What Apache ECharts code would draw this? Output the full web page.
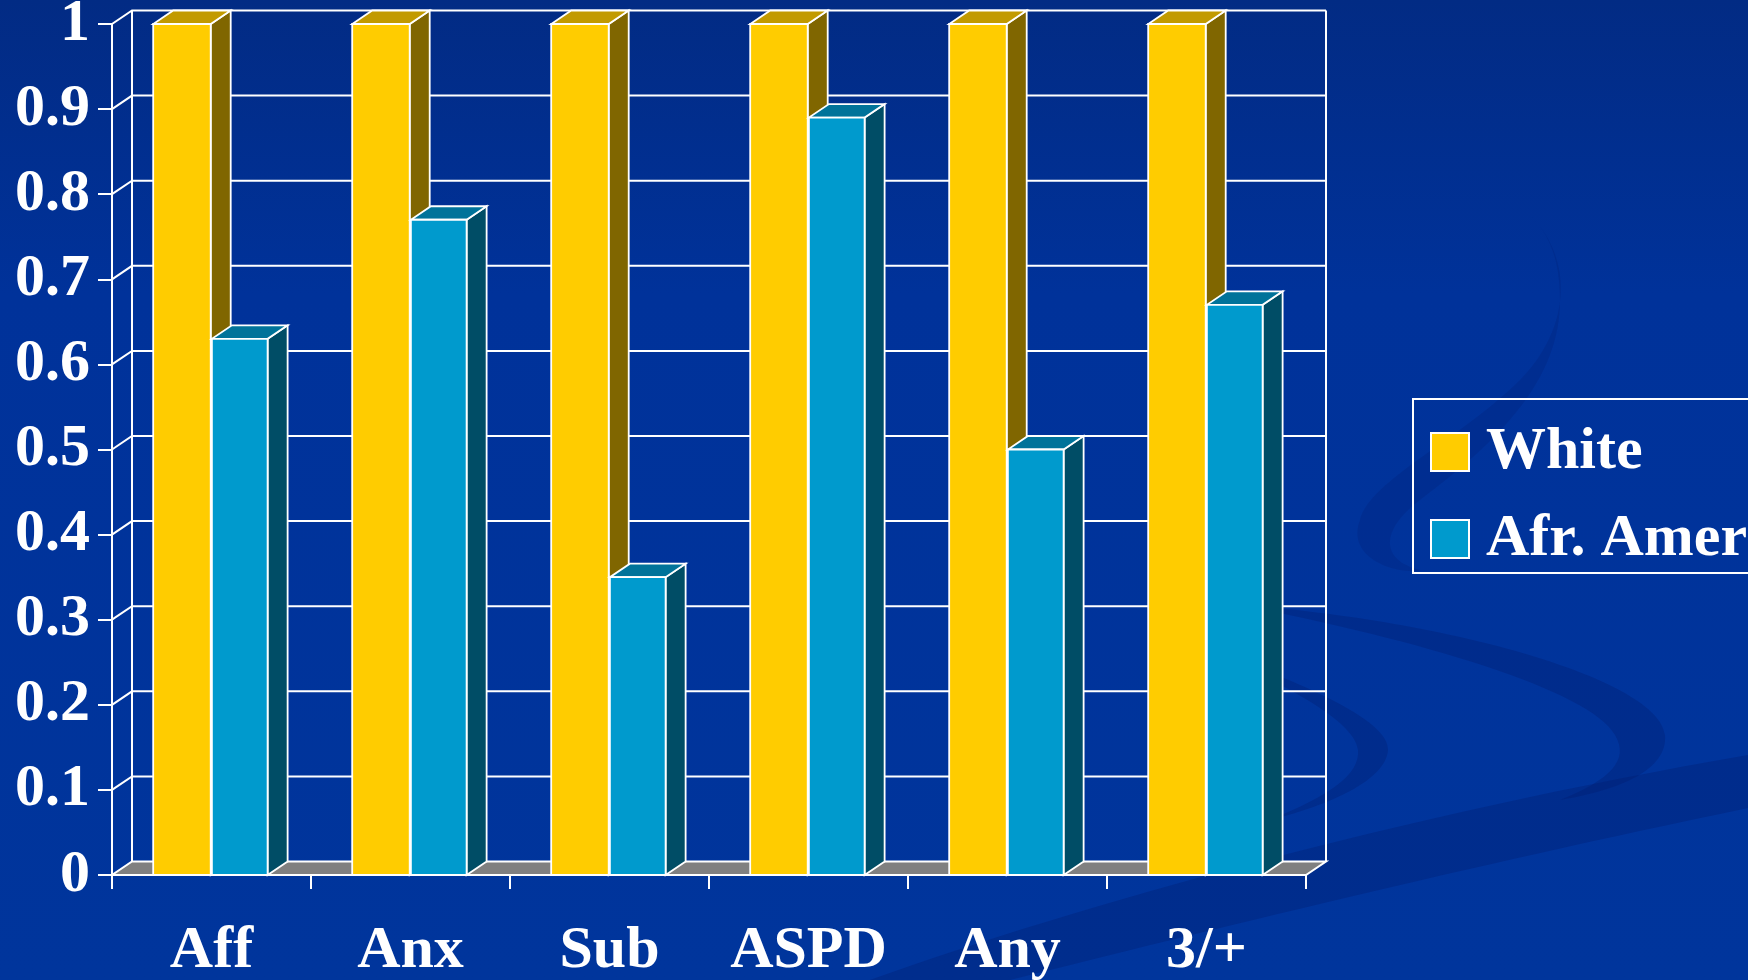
<!DOCTYPE html>
<html>
<head>
<meta charset="utf-8">
<script src="https://cdn.jsdelivr.net/npm/echarts@6/dist/echarts.min.js"></script>
<style>
  html, body { margin: 0; padding: 0; background: #003399; }
  #chart { width: 1748px; height: 980px; }
</style>
</head>
<body>
<div id="chart"></div>
<script>
// Chart data
const categories = ['Aff', 'Anx', 'Sub', 'ASPD', 'Any', '3/+'];
const whiteValues = [1, 1, 1, 1, 1, 1];
const afrAmerValues = [0.63, 0.77, 0.35, 0.89, 0.50, 0.67];
const yTickValues = [0, 0.1, 0.2, 0.3, 0.4, 0.5, 0.6, 0.7, 0.8, 0.9, 1];
const seriesNames = ['White', 'Afr. Amer'];

// Pseudo-3D depth of the plot box (pixels)
const DX = 20;
const DY = 13.5;
const EDGE = '#ffffff';
const FONT = 'Liberation Serif';

const faces = {
  white: { front: '#FFCC00', top: '#C29A00', side: '#806600' },
  afr:   { front: '#009ACD', top: '#00739A', side: '#004D66' }
};

// Decorative swirls of the slide background
const SWIRL = 'rgba(0, 28, 108, 0.32)';
const swirlPaths = [
  { d: 'M 870 980 C 1080 905 1400 815 1748 755 L 1748 808 C 1460 868 1210 930 1010 980 Z', fill: SWIRL },
  { d: 'M 1240 605 C 1450 620 1660 680 1665 735 C 1668 770 1620 790 1560 800 C 1610 780 1630 760 1615 735 C 1590 690 1420 640 1240 605 Z', fill: SWIRL },
  { d: 'M 1180 640 C 1300 680 1390 720 1388 750 C 1386 780 1330 805 1270 820 C 1330 795 1360 775 1358 750 C 1355 720 1280 680 1180 640 Z', fill: SWIRL },
  { d: 'M 1530 215 C 1575 260 1570 330 1520 380 C 1460 440 1370 480 1360 520 C 1345 560 1400 575 1420 570 C 1380 560 1380 530 1420 500 C 1500 440 1560 380 1560 300 C 1560 260 1550 235 1530 215 Z', fill: 'rgba(0, 28, 108, 0.22)' }
];

function renderSwirls() {
  return {
    type: 'group',
    children: swirlPaths.map(function (p) {
      return { type: 'path', shape: { pathData: p.d }, style: { fill: p.fill } };
    })
  };
}

// Back wall, left-side grid diagonals and floor
function renderWall(params, api) {
  const cs = params.coordSys;
  const t = api.value(1);
  const y = api.coord([0, t])[1];
  const left = cs.x, right = cs.x + cs.width;
  const yTop = cs.y, yBase = cs.y + cs.height;
  const line = { stroke: EDGE, lineWidth: 2, fill: null };
  const children = [];
  if (t === 0) {
    children.push({
      type: 'line',
      shape: { x1: left + DX, y1: yTop - DY, x2: left + DX, y2: yBase - DY },
      style: line
    });
    children.push({
      type: 'line',
      shape: { x1: right + DX, y1: yTop - DY, x2: right + DX, y2: yBase - DY },
      style: line
    });
    children.push({
      type: 'polygon',
      shape: { points: [[left, y], [right, y], [right + DX, y - DY], [left + DX, y - DY]] },
      style: { fill: '#808080', stroke: EDGE, lineWidth: 2 }
    });
  } else {
    children.push({
      type: 'polyline',
      shape: { points: [[left, y], [left + DX, y - DY], [right + DX, y - DY]] },
      style: line
    });
  }
  return { type: 'group', children: children };
}

// One box per data item: side, top, then front face
function makeBarRenderer(fromFrac, toFrac, col) {
  return function (params, api) {
    const i = api.value(0);
    const v = api.value(1);
    const top = api.coord([i, v]);
    const base = api.coord([i, 0]);
    const bw = api.size([1, 0])[0];
    const x0 = top[0] + fromFrac * bw;
    const x1 = top[0] + toFrac * bw;
    const yT = top[1], yB = base[1];
    const edge = { stroke: EDGE, lineWidth: 1.8 };
    return {
      type: 'group',
      children: [
        {
          type: 'polygon',
          shape: { points: [[x1, yT], [x1 + DX, yT - DY], [x1 + DX, yB - DY], [x1, yB]] },
          style: Object.assign({ fill: col.side }, edge)
        },
        {
          type: 'polygon',
          shape: { points: [[x0, yT], [x1, yT], [x1 + DX, yT - DY], [x0 + DX, yT - DY]] },
          style: Object.assign({ fill: col.top }, edge)
        },
        {
          type: 'rect',
          shape: { x: x0, y: yT, width: x1 - x0, height: yB - yT },
          style: Object.assign({ fill: col.front }, edge)
        }
      ]
    };
  };
}

const chart = echarts.init(document.getElementById('chart'), null, { renderer: 'canvas' });

chart.setOption({
  animation: false,
  backgroundColor: {
    type: 'linear', x: 0, y: 0, x2: 0, y2: 1,
    colorStops: [
      { offset: 0, color: '#022b84' },
      { offset: 0.3, color: '#00329a' },
      { offset: 1, color: '#00359c' }
    ]
  },
  grid: { left: 112, right: 442, top: 24, bottom: 105, containLabel: false, outerBoundsMode: 'none' },
  legend: {
    data: seriesNames,
    orient: 'vertical',
    left: 1413,
    top: 399,
    padding: [23, 17, 4, 17],
    itemWidth: 38,
    itemHeight: 38,
    itemGap: 27,
    icon: 'rect',
    selectedMode: false,
    borderColor: '#ffffff',
    borderWidth: 2,
    itemStyle: { borderColor: '#ffffff', borderWidth: 2 },
    textStyle: {
      color: '#ffffff',
      fontSize: 60,
      fontWeight: 'bold',
      fontFamily: FONT,
      padding: [0, 0, 0, 12]
    }
  },
  xAxis: {
    type: 'category',
    data: categories,
    boundaryGap: true,
    z: 10,
    axisLine: { show: true, lineStyle: { color: EDGE, width: 2 } },
    axisTick: { show: true, interval: 0, length: 14, lineStyle: { color: EDGE, width: 2 } },
    axisLabel: {
      interval: 0,
      color: '#ffffff',
      fontSize: 60,
      fontWeight: 'bold',
      fontFamily: FONT,
      margin: 46
    },
    splitLine: { show: false }
  },
  yAxis: {
    type: 'value',
    min: 0,
    max: 1,
    interval: 0.1,
    z: 10,
    axisLine: { show: true, lineStyle: { color: EDGE, width: 2 } },
    axisTick: { show: true, length: 14, lineStyle: { color: EDGE, width: 2 } },
    axisLabel: {
      color: '#ffffff',
      fontSize: 60,
      fontWeight: 'bold',
      fontFamily: FONT,
      margin: 22
    },
    splitLine: { show: false }
  },
  series: [
    {
      type: 'custom',
      name: 'backdrop',
      silent: true,
      clip: false,
      renderItem: renderSwirls,
      data: [[0, 0]],
      z: 0
    },
    {
      type: 'custom',
      name: 'wall',
      silent: true,
      clip: false,
      renderItem: renderWall,
      data: yTickValues.map(function (t) { return [0, t]; }),
      z: 1
    },
    {
      type: 'custom',
      name: seriesNames[0],
      clip: false,
      itemStyle: { color: faces.white.front },
      renderItem: makeBarRenderer(-0.293, -0.004, faces.white),
      data: categories.map(function (c, i) { return [i, whiteValues[i]]; }),
      z: 2
    },
    {
      type: 'custom',
      name: seriesNames[1],
      clip: false,
      itemStyle: { color: faces.afr.front },
      renderItem: makeBarRenderer(0.002, 0.282, faces.afr),
      data: categories.map(function (c, i) { return [i, afrAmerValues[i]]; }),
      z: 3
    }
  ]
});
</script>
</body>
</html>
